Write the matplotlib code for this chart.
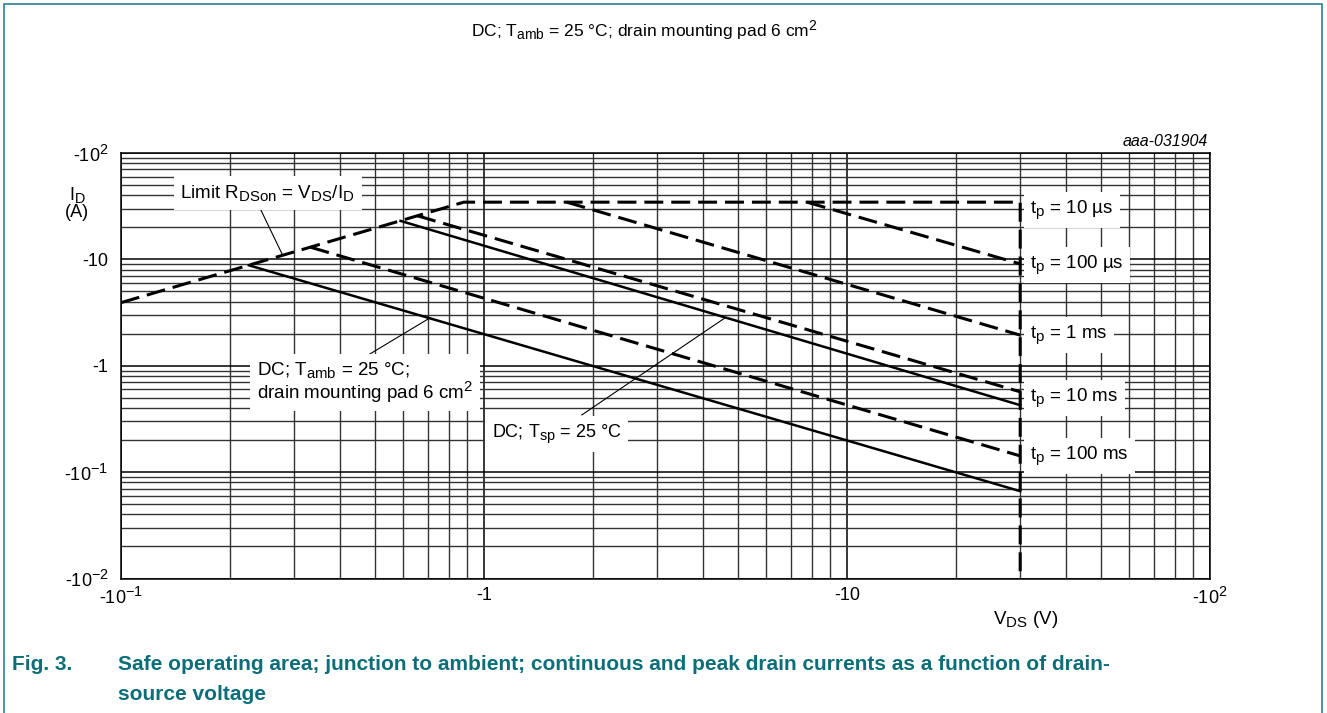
import matplotlib.pyplot as plt
import matplotlib.ticker as ticker
import matplotlib._mathtext as mathtext_internal
from matplotlib.patches import Rectangle

# datasheet style uses larger sub/superscripts than matplotlib's default 0.7
mathtext_internal.SHRINK_FACTOR = 0.8

plt.rcParams['font.family'] = ['Liberation Sans', 'DejaVu Sans']
plt.rcParams['mathtext.fontset'] = 'custom'
plt.rcParams['mathtext.rm'] = 'Liberation Sans'
plt.rcParams['mathtext.it'] = 'Liberation Sans:italic'
plt.rcParams['mathtext.bf'] = 'Liberation Sans:bold'

W, H = 1327, 713
TEAL = '#0b6e79'

# curve vertices: V_DS (V) and |I_D| (A)
limit_v = [0.1, 0.88]
limit_i = [3.92, 34.5]
tp10us_v = [0.88, 30, 30]
tp10us_i = [34.5, 34.5, 0.01]
tp100us_v = [7.76, 30]
tp100us_i = [34.5, 9.07]
tp1ms_v = [1.69, 30]
tp1ms_i = [34.5, 1.94]
tp10ms_v = [0.655, 30]
tp10ms_i = [25.7, 0.569]
tp100ms_v = [0.333, 30]
tp100ms_i = [13.0, 0.142]
dc_sp_v = [0.589, 30]
dc_sp_i = [23.0, 0.426]
dc_amb_v = [0.225, 30]
dc_amb_i = [8.8, 0.0662]

x_ticks = [0.1, 1, 10, 100]
x_labels = ['-10$^{-1}$', '-1', '-10', '-10$^{2}$']
y_ticks = [0.01, 0.1, 1, 10, 100]
y_labels = ['-10$^{-2}$', '-10$^{-1}$', '-1', '-10', '-10$^{2}$']

tp_labels = ['t$_{\\mathrm{p}}$ = 10 µs', 't$_{\\mathrm{p}}$ = 100 µs',
             't$_{\\mathrm{p}}$ = 1 ms', 't$_{\\mathrm{p}}$ = 10 ms',
             't$_{\\mathrm{p}}$ = 100 ms']
tp_label_i = [29.1, 8.85, 1.95, 0.50, 0.142]

fig = plt.figure(figsize=(W / 100, H / 100), dpi=100)
ax = fig.add_axes([121 / W, 1 - 578.5 / H, (1210 - 121) / W, (578.5 - 153) / H])
ax.set_xscale('log')
ax.set_yscale('log')
ax.set_xlim(0.1, 100)
ax.set_ylim(0.01, 100)

ax.set_xticks(x_ticks)
ax.set_xticklabels(x_labels)
ax.set_yticks(y_ticks)
ax.set_yticklabels(y_labels)
ax.xaxis.set_minor_locator(ticker.LogLocator(base=10, subs=range(2, 10), numticks=20))
ax.yaxis.set_minor_locator(ticker.LogLocator(base=10, subs=range(2, 10), numticks=20))
ax.xaxis.set_minor_formatter(ticker.NullFormatter())
ax.yaxis.set_minor_formatter(ticker.NullFormatter())
ax.tick_params(which='both', length=0, labelsize=13)
ax.tick_params(axis='y', pad=9)
ax.tick_params(axis='x', pad=6)

ax.set_axisbelow(True)
ax.grid(which='major', color='black', lw=1.1)
ax.grid(which='minor', color='#333333', lw=1.0)
for s in ax.spines.values():
    s.set_color('black')
    s.set_linewidth(1.1)

dash = dict(color='black', lw=2.2, dashes=(6.2, 2.6), dash_capstyle='butt')
solid = dict(color='black', lw=1.8)

ax.plot(limit_v + tp10us_v[1:], limit_i + tp10us_i[1:], **dash)
ax.plot(tp100us_v, tp100us_i, **dash)
ax.plot(tp1ms_v, tp1ms_i, **dash)
ax.plot(tp10ms_v, tp10ms_i, **dash)
ax.plot(tp100ms_v, tp100ms_i, **dash)
ax.plot(dc_sp_v, dc_sp_i, **solid)
ax.plot(dc_amb_v, dc_amb_i, **solid)

# leader lines
ax.plot([0.237, 0.279], [34.6, 10.9], color='black', lw=0.8)
ax.plot([0.47, 0.71], [1.21, 2.82], color='black', lw=0.8)
ax.plot([1.86, 4.6], [0.345, 2.8], color='black', lw=0.8)

box = dict(facecolor='white', edgecolor='none', boxstyle='square,pad=0.35')
ax.text(0.1456, 42.1, 'Limit R$_{\\mathrm{DSon}}$ = V$_{\\mathrm{DS}}$/I$_{\\mathrm{D}}$',
        ha='left', va='center', fontsize=13.5, bbox=box)
ax.text(0.237, 0.70, 'DC; T$_{\\mathrm{amb}}$ = 25 °C;\ndrain mounting pad 6 cm$^{2}$',
        ha='left', va='center', fontsize=13.5, bbox=box, linespacing=1.0)
ax.text(1.05, 0.229, 'DC; T$_{\\mathrm{sp}}$ = 25 °C',
        ha='left', va='center', fontsize=13, bbox=box)
for lab, yi in zip(tp_labels, tp_label_i):
    ax.text(32, yi, lab, ha='left', va='center', fontsize=13.5, bbox=box)

fig.text(644 / W, 1 - 30 / H, 'DC; T$_{\\mathrm{amb}}$ = 25 °C; drain mounting pad 6 cm$^{2}$',
         ha='center', va='center', fontsize=12.5)
fig.text(1208 / W, 1 - 141 / H, 'aaa-031904', ha='right', va='center',
         fontsize=11.5, style='italic')
fig.text(77 / W, 1 - 203 / H, 'I$_{\\mathrm{D}}$\n(A)', ha='center', va='center',
         fontsize=13, multialignment='center', linespacing=0.95)
fig.text(1026 / W, 1 - 620 / H, 'V$_{\\mathrm{DS}}$ (V)', ha='center', va='center', fontsize=13.5)

fig.text(12 / W, 1 - 665 / H, 'Fig. 3.', ha='left', va='center', fontsize=15,
         fontweight='bold', color=TEAL)
fig.text(118 / W, 1 - 665 / H,
         'Safe operating area; junction to ambient; continuous and peak drain currents as a function of drain-',
         ha='left', va='center', fontsize=15, fontweight='bold', color=TEAL)
fig.text(118 / W, 1 - 694 / H, 'source voltage', ha='left', va='center', fontsize=15,
         fontweight='bold', color=TEAL)

fig.patches.append(Rectangle((4 / W, -0.02), (1322 - 4) / W, 1 - 4 / H + 0.02,
                             transform=fig.transFigure, fill=False,
                             edgecolor='#2a8591', lw=1.2))

fig.savefig('out.png', dpi=100)
